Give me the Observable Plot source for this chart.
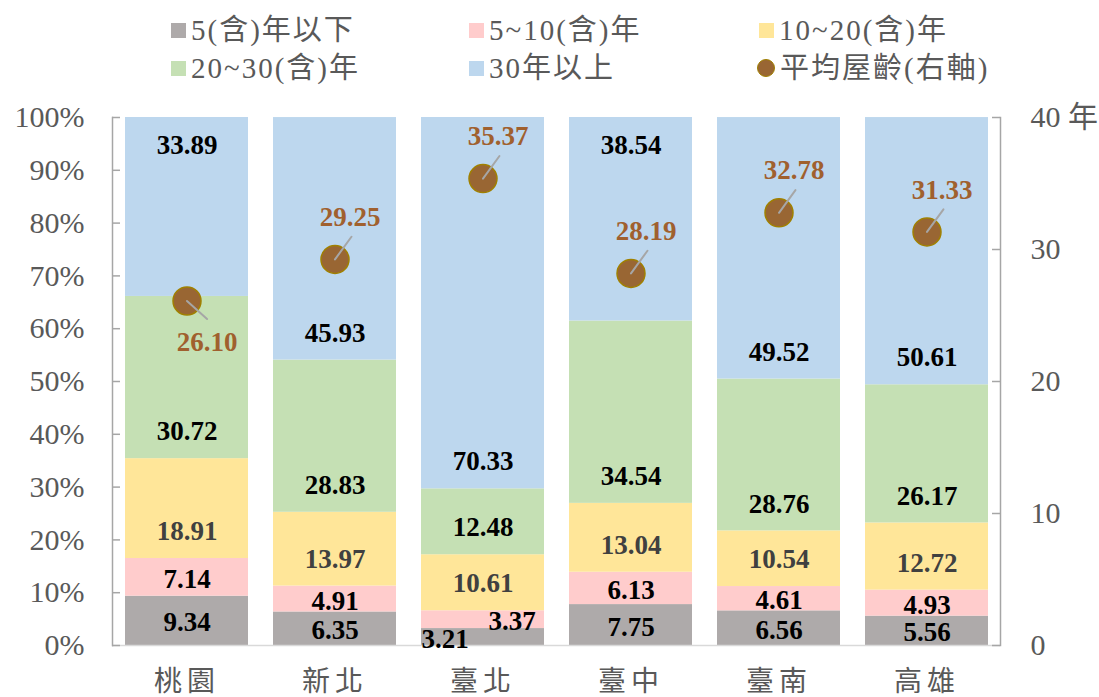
<!DOCTYPE html>
<html><head><meta charset="utf-8">
<script src="https://cdn.jsdelivr.net/npm/d3@7"></script>
<script src="https://cdn.jsdelivr.net/npm/@observablehq/plot@0.6"></script>
<style>
body{margin:0;background:#fff;font-family:"Liberation Serif","Noto Sans CJK TC",serif;}
#legend{position:relative;width:1099px;height:95px;}
.item{position:absolute;display:flex;align-items:center;font-size:29px;color:#595959;white-space:nowrap;height:36px;line-height:36px;letter-spacing:2px;}
.sw{width:15px;height:15px;margin-right:5px;flex:none;}
.dotsw{width:18px;height:18px;border-radius:50%;margin-right:5px;box-sizing:border-box;border:1.5px solid #A08000;background:#996633;flex:none;}
#chart svg g[aria-label="x-axis tick label"] text{letter-spacing:5px;}
</style></head><body>
<div id="legend"></div><div id="chart"></div>
<script>
const cities = ["桃園","新北","臺北","臺中","臺南","高雄"];
const seriesNames = ["5(含)年以下","5~10(含)年","10~20(含)年","20~30(含)年","30年以上"];
const under5 = [9.34, 6.35, 3.21, 7.75, 6.56, 5.56];
const y5to10 = [7.14, 4.91, 3.37, 6.13, 4.61, 4.93];
const y10to20 = [18.91, 13.97, 10.61, 13.04, 10.54, 12.72];
const y20to30 = [30.72, 28.83, 12.48, 34.54, 28.76, 26.17];
const over30 = [33.89, 45.93, 70.33, 38.54, 49.52, 50.61];
const avgAge = [26.10, 29.25, 35.37, 28.19, 32.78, 31.33];
const avgName = "平均屋齡(右軸)";
const leftTicks = [0,10,20,30,40,50,60,70,80,90,100];
const rightTicks = [0,10,20,30,40];
const rightMax = 40;
const colors = ["#AEAAAA","#FFCCCC","#FFE699","#C5E0B4","#BDD7EE"];
const topLabelCities = ["桃園","臺中"];
const belowAgeLabelCities = ["桃園"];

const seriesValues = [under5, y5to10, y10to20, y20to30, over30];
const rows = [];
cities.forEach((city, i) => {
  let acc = 0;
  seriesValues.forEach((arr, k) => {
    const v = arr[i];
    rows.push({city, series: seriesNames[k], k, value: v, y1: acc, y2: acc + v});
    acc += v;
  });
});
const ageRows = cities.map((city, i) => ({city, avg: avgAge[i], yp: avgAge[i] / rightMax * 100}));

// legend
const legend = document.getElementById("legend");
const legendPos = [[171, 12],[469, 12],[759, 12],[171, 50],[469, 50],[757, 50]];
seriesNames.concat([avgName]).forEach((name, i) => {
  const it = document.createElement("div");
  it.className = "item";
  it.style.left = legendPos[i][0] + "px";
  it.style.top = legendPos[i][1] + "px";
  const sw = document.createElement("span");
  if (i < 5) { sw.className = "sw"; sw.style.background = colors[i]; }
  else sw.className = "dotsw";
  it.appendChild(sw);
  const t = document.createElement("span");
  t.textContent = name;
  it.appendChild(t);
  legend.appendChild(it);
});

const W = 1099, ML = 112, MR = 99;
const plotW = W - ML - MR;
const font = "'Liberation Serif','Noto Sans CJK TC',serif";
const isTiny = d => d.value < 4;
const labelY = d => {
  if (d.k <= 1) return (d.y1 + d.y2) / 2;
  return d.y1;
};
const txt = (data, opts) => Plot.text(data, Object.assign({
  x: "city", text: d => d.value.toFixed(2), fontSize: 27, fontWeight: "bold",
  fill: d => d.k === 2 ? "#404040" : "#000000", fontFamily: font
}, opts));

const chart = Plot.plot({
  width: W, height: 602,
  marginTop: 22, marginBottom: 52, marginLeft: ML, marginRight: MR,
  x: {domain: cities, paddingInner: 0.17, paddingOuter: 0.085, axis: null},
  y: {domain: [0, 100], axis: null},
  color: {domain: seriesNames, range: colors},
  style: {fontFamily: font, background: "white", overflow: "visible"},
  marks: [
    Plot.barY(rows, {x: "city", y1: "y1", y2: "y2", fill: "series"}),
    Plot.ruleY([0], {stroke: "#D9D9D9", strokeWidth: 1.5}),
    Plot.frame({anchor: "left", stroke: "#A6A6A6", strokeWidth: 1.5}),
    Plot.frame({anchor: "right", stroke: "#A6A6A6", strokeWidth: 1.5}),
    Plot.tickY(leftTicks, {y: d => d, insetRight: plotW - 8, stroke: "#A6A6A6", strokeWidth: 1.5}),
    Plot.tickY(rightTicks, {y: d => d / rightMax * 100, insetLeft: plotW - 8, stroke: "#A6A6A6", strokeWidth: 1.5}),
    Plot.axisY({ticks: leftTicks, tickFormat: d => d + "%", tickSize: 0, tickPadding: 28, fontSize: 30, color: "#595959", label: null}),
    Plot.axisY({anchor: "right", ticks: rightTicks.map(v => v / rightMax * 100), tickFormat: d => { const v = Math.round(d * rightMax / 100); return v === rightMax ? v + " 年" : String(v); }, tickSize: 0, tickPadding: 30, fontSize: 30, color: "#595959", label: null}),
    Plot.axisX({tickSize: 0, tickPadding: 26, fontSize: 28, color: "#595959", label: null}),
    // segment labels
    txt(rows.filter(d => !isTiny(d) && d.k <= 1), {y: labelY, dy: 2}),
    txt(rows.filter(d => !isTiny(d) && d.k >= 2 && !(d.k === 4 && topLabelCities.includes(d.city))), {y: labelY, dy: -27}),
    txt(rows.filter(d => d.k === 4 && topLabelCities.includes(d.city)), {y: "y2", dy: 28}),
    txt(rows.filter(d => isTiny(d) && d.k === 0), {y: labelY, dx: -38, dy: 2}),
    txt(rows.filter(d => isTiny(d) && d.k === 1), {y: labelY, dx: 29, dy: 2}),
    // average age
    Plot.dot(ageRows, {x: "city", y: "yp", r: 14, fill: "#996633", stroke: "#A08000", strokeWidth: 1.5}),
    Plot.vector(ageRows.filter(d => belowAgeLabelCities.includes(d.city)), {x: "city", y: "yp", length: 27, rotate: 132, anchor: "start", stroke: "#A6A6A6", strokeWidth: 2, r: 0}),
    Plot.vector(ageRows.filter(d => !belowAgeLabelCities.includes(d.city)), {x: "city", y: "yp", length: 28, rotate: 36, anchor: "start", stroke: "#A6A6A6", strokeWidth: 2, r: 0}),
    Plot.text(ageRows.filter(d => belowAgeLabelCities.includes(d.city)), {x: "city", y: "yp", text: d => d.avg.toFixed(2), dx: 20, dy: 41, fontSize: 27, fontWeight: "bold", fill: "#A0602E", fontFamily: font}),
    Plot.text(ageRows.filter(d => !belowAgeLabelCities.includes(d.city)), {x: "city", y: "yp", text: d => d.avg.toFixed(2), dx: 15, dy: -42, fontSize: 27, fontWeight: "bold", fill: "#A0602E", fontFamily: font})
  ]
});
document.getElementById("chart").appendChild(chart);
</script>
</body></html>
